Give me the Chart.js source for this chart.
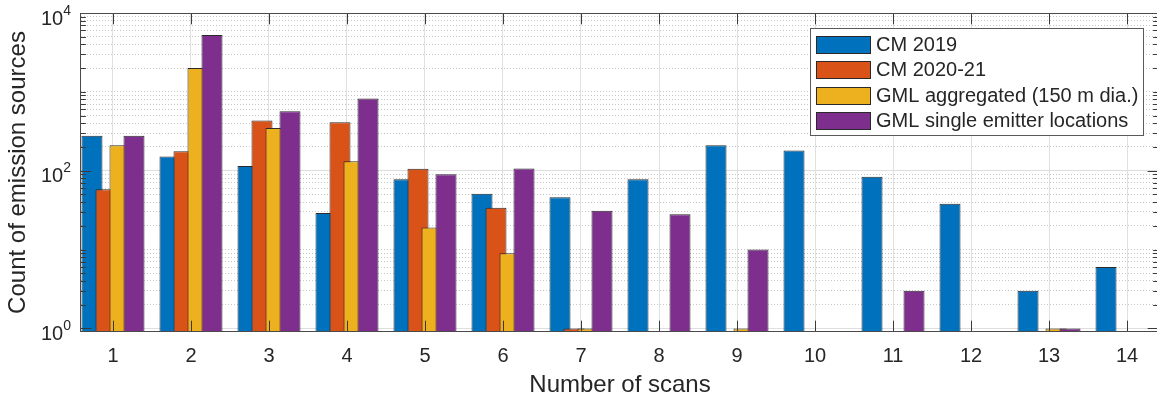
<!DOCTYPE html>
<html>
<head>
<meta charset="utf-8">
<title>Emission sources by number of scans</title>
<script src="https://cdn.jsdelivr.net/npm/chart.js@4.4.1/dist/chart.umd.min.js"></script>
<style>
  html, body { margin: 0; padding: 0; background: #fff; overflow: hidden; }
  #wrap { width: 1160px; height: 400px; }
  canvas { display: block; }
</style>
</head>
<body>
<div id="wrap"><canvas id="c" width="1160" height="400"></canvas></div>
<script>
// Number of scans (x categories) and their tick labels
const scans = [1, 2, 3, 4, 5, 6, 7, 8, 9, 10, 11, 12, 13, 14];
const scanLabels = ['1', '2', '3', '4', '5', '6', '7', '8', '9', '10', '11', '12', '13', '14'];

// Count of emission sources per series (0 = no sources, not drawn on the log axis)
const cm2019        = [278, 151, 115, 29, 78, 51, 46, 78, 210, 181, 84, 38, 3, 6];
const cm2020_21     = [58, 176, 432, 412, 106, 34, 1, 0, 0, 0, 0, 0, 0, 0];
const gmlAggregated = [210, 2000, 349, 132, 19, 9, 1, 0, 1, 0, 0, 0, 1, 0];
const gmlSingle     = [278, 5250, 569, 822, 90, 107, 31, 28, 10, 0, 3, 0, 1, 0];

const seriesNames  = ['CM 2019', 'CM 2020-21', 'GML aggregated (150 m dia.)', 'GML single emitter locations'];
const seriesValues = [cm2019, cm2020_21, gmlAggregated, gmlSingle];
const seriesColors = ['#0072BD', '#D95319', '#EDB120', '#7E2F8E'];

// Labelled decades on the log axis (drawn as 10 with a raised exponent)
const yLabelValues    = [1, 100, 10000];
const yLabelExponents = ['0', '2', '4'];

const FONT = '"Liberation Sans", Arial, Helvetica, sans-serif';
const INK = '#262626';
const EDGE = '#2a2a2a';

// every 1..9 x 10^k gridline between 1 and 10^4
const yGridValues = [];
for (let e = 0; e < 4; e++) for (let m = 1; m <= 9; m++) yGridValues.push(m * Math.pow(10, e));
yGridValues.push(10000);
const isLabelled = v => yLabelValues.includes(v);

const datasets = seriesNames.map((name, k) => ({
  label: name,
  data: scans.map((s, i) => ({ x: s, y: seriesValues[k][i] > 0 ? seriesValues[k][i] : null })),
  backgroundColor: seriesColors[k],
  borderColor: EDGE,
  borderWidth: 1,
  borderSkipped: false
}));

// Bars are drawn left to right so each bar overlaps its left neighbour;
// then the axes box, inward ticks, log tick labels and legend go on top.
const axesDecor = {
  id: 'axesDecor',
  beforeDatasetsDraw(chart) {
    const { ctx, chartArea: a } = chart;
    ctx.save();
    ctx.beginPath();
    ctx.rect(a.left, a.top, a.right - a.left, a.bottom - a.top);
    ctx.clip();
    chart.data.datasets.forEach((d, i) => {
      const meta = chart.getDatasetMeta(i);
      if (!meta.hidden) meta.controller.draw();
    });
    ctx.restore();
    return false;
  },
  afterDraw(chart) {
    const { ctx, chartArea: a, scales } = chart;
    const xs = scales.x, ys = scales.y;
    const L = Math.round(a.left) - 0.5, R = Math.round(a.right) - 0.5;
    const T = Math.round(a.top) + 0.5, B = Math.round(a.bottom) - 0.5;
    const major = 10.8, minor = 5.4;

    ctx.save();
    ctx.strokeStyle = '#3a3a3a';
    ctx.lineWidth = 1;
    ctx.beginPath();
    // x ticks, bottom and top, pointing inward
    scans.forEach(v => {
      const px = Math.round(xs.getPixelForValue(v)) + 0.5;
      ctx.moveTo(px, B); ctx.lineTo(px, B - major);
      ctx.moveTo(px, T); ctx.lineTo(px, T + major);
    });
    // y ticks, left and right
    yGridValues.forEach(v => {
      const py = Math.round(ys.getPixelForValue(v)) + 0.5;
      const len = isLabelled(v) ? major : minor;
      ctx.moveTo(L, py); ctx.lineTo(L + len, py);
      ctx.moveTo(R, py); ctx.lineTo(R - len, py);
    });
    ctx.stroke();
    // axes box
    ctx.strokeStyle = '#4a4a4a';
    ctx.strokeRect(L, T, R - L, B - T);

    // y tick labels: 10 with a superscript exponent
    ctx.fillStyle = INK;
    ctx.textAlign = 'right';
    ctx.textBaseline = 'alphabetic';
    yLabelValues.forEach((v, i) => {
      const py = ys.getPixelForValue(v);
      const xr = a.left - 10;
      ctx.font = '14px ' + FONT;
      const ew = ctx.measureText(yLabelExponents[i]).width;
      ctx.fillText(yLabelExponents[i], xr, py + 1.5);
      ctx.font = '20px ' + FONT;
      ctx.fillText('10', xr - ew, py + 11.5);
    });

    // legend
    const bx = 810.5, by = 28.5, bw = 333, bh = 107;
    ctx.fillStyle = '#ffffff';
    ctx.fillRect(bx, by, bw, bh);
    ctx.strokeStyle = '#5a5a5a';
    ctx.strokeRect(bx, by, bw, bh);
    ctx.font = '20px ' + FONT;
    ctx.textAlign = 'left';
    ctx.textBaseline = 'middle';
    chart.data.datasets.forEach((d, i) => {
      const top = 35.5 + i * 25.5;
      ctx.fillStyle = d.backgroundColor;
      ctx.fillRect(816, Math.round(top), 55, 18);
      ctx.strokeStyle = EDGE;
      ctx.strokeRect(816.5, Math.round(top) + 0.5, 54, 17);
      ctx.fillStyle = INK;
      ctx.fillText(d.label, 876, Math.round(top) + 9.5);
    });
    ctx.restore();
  }
};

new Chart(document.getElementById('c'), {
  type: 'bar',
  data: { datasets },
  plugins: [axesDecor],
  options: {
    responsive: false,
    animation: false,
    events: [],
    layout: { padding: { top: 13, right: 1, left: 0, bottom: 0 } },
    plugins: { legend: { display: false }, tooltip: { enabled: false } },
    datasets: { bar: { categoryPercentage: 56 / 78, barPercentage: 1.5 } },
    scales: {
      x: {
        type: 'linear',
        min: 0.59,
        max: 14.41,
        offset: false,
        afterBuildTicks: s => { s.ticks = scans.map(v => ({ value: v })); },
        afterFit: s => { s.height = 68; },
        ticks: {
          callback: v => { const i = scans.indexOf(v); return i >= 0 ? scanLabels[i] : ''; },
          font: { family: FONT, size: 20 },
          color: INK,
          padding: 12,
          maxRotation: 0,
          autoSkip: false
        },
        grid: { color: '#e0e0e0', lineWidth: 1, drawTicks: false, offset: false },
        border: { display: false },
        title: {
          display: true,
          text: 'Number of scans',
          font: { family: FONT, size: 24 },
          color: INK,
          padding: { top: 0, bottom: 0 }
        }
      },
      y: {
        type: 'logarithmic',
        min: 0.9,
        max: 10000,
        afterBuildTicks: s => { s.ticks = yGridValues.map(v => ({ value: v, major: isLabelled(v) })); },
        afterFit: s => { s.width = 81; },
        ticks: { display: false },
        grid: {
          color: c => (c.tick && isLabelled(c.tick.value)) ? '#dedede' : 'rgba(38,38,38,0.26)',
          lineWidth: 1,
          drawTicks: false
        },
        border: {
          display: false,
          dash: c => (c.tick && !isLabelled(c.tick.value)) ? [1, 2] : []
        },
        title: {
          display: true,
          text: 'Count of emission sources',
          font: { family: FONT, size: 24 },
          color: INK,
          padding: { top: 4, bottom: 0 }
        }
      }
    }
  }
});
</script>
</body>
</html>
